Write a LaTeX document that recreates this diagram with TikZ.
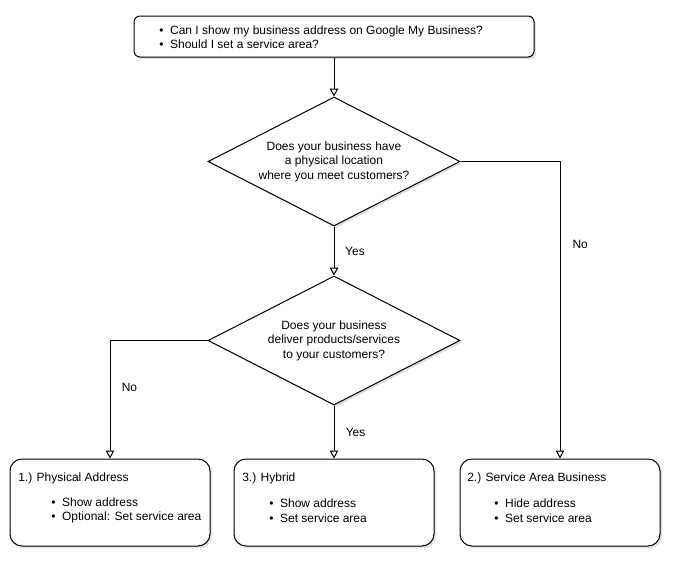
\documentclass[tikz,border=0pt]{standalone}
\usepackage{fontspec}
\setmainfont{Liberation Sans}
\usetikzlibrary{shapes.geometric,arrows.meta,shadows,positioning}

\tikzset{
  shade box/.style={drop shadow={shadow xshift=1.5pt,shadow yshift=-1.5pt,opacity=.25,fill=gray}},
  qbox/.style={draw,line width=0.75pt,fill=white,rounded corners=4.5pt,minimum width=300pt,minimum height=30.75pt,shade box},
  outbox/.style={draw,line width=0.75pt,fill=white,rounded corners=9pt,minimum width=150pt,minimum height=65.25pt,shade box},
  decision/.style={diamond,draw,line width=0.75pt,fill=white,aspect=1.95,inner sep=0pt,minimum width=189pt,minimum height=96.75pt,shade box,align=center},
  flow/.style={line width=0.75pt,-{Triangle[open,length=6pt,width=6.5pt]}},
  answer/.style={inner sep=0pt}
}
\newcommand{\bl}{\textbullet\hspace{5pt}}

\begin{document}
\begin{tikzpicture}[x=0.75pt,y=-0.75pt,font=\fontsize{9}{10.9}\selectfont]
 \useasboundingbox (0,0) rectangle (682,568);

    % question box
    \node[qbox] (quest) at (334,36.5) {};
    \node[anchor=west,align=left,inner sep=0pt] (quest-text) at (159,37)
      {\bl Can I show my business address on Google My Business?\\ \bl Should I set a service area?};

    % decisions
    \node[decision] (loc) at (334,161.5) {Does your business have\\ a physical location\\ where you meet customers?};
    \node[decision] (deliver) at (334,340.5) {Does your business\\ deliver products/services\\ to your customers?};

    % outcomes
    \node[outbox] (phys) at (110,502.5) {};
    \node[outbox] (hybrid) at (334,502.5) {};
    \node[outbox] (area) at (560,502.5) {};

    \node[anchor=west,inner sep=0pt] (phys-title) at (18,478) {1.) Physical Address};
    \node[anchor=west,align=left,inner sep=0pt] (phys-list) at (51,510.5) {\bl Show address\\ \bl Optional: Set service area};
    \node[anchor=west,inner sep=0pt] (hybrid-title) at (242,478) {3.) Hybrid};
    \node[anchor=west,align=left,inner sep=0pt] (hybrid-list) at (269,510.5) {\bl Show address\\ \bl Set service area};
    \node[anchor=west,inner sep=0pt] (area-title) at (467,478) {2.) Service Area Business};
    \node[anchor=west,align=left,inner sep=0pt] (area-list) at (494,510.5) {\bl Hide address\\ \bl Set service area};

    % connectors
    \draw[flow] (quest.south) -- (loc.north);
    \draw[flow] (loc.south) -- (deliver.north) node[midway,right=8pt,answer] {Yes};
    \draw[flow] (loc.east) -| (area.north) node[pos=0.639,right=9pt,answer] {No};
    \draw[flow] (deliver.west) -| (phys.north) node[pos=0.697,right=8.5pt,answer] {No};
    \draw[flow] (deliver.south) -- (hybrid.north) node[midway,right=8.5pt,answer] {Yes};

\end{tikzpicture}
\end{document}
